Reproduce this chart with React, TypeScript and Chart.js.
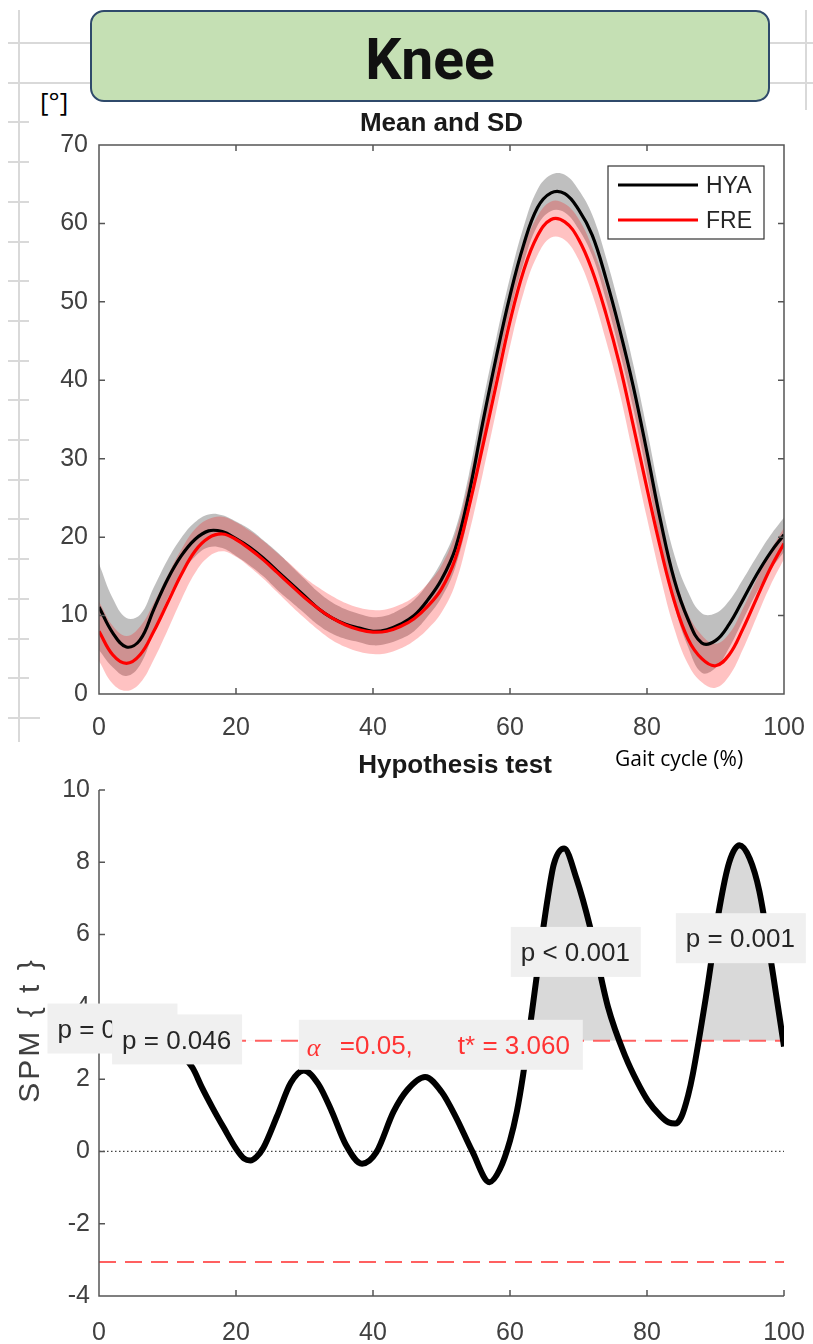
import React, { useEffect, useRef } from "react";
import { Chart, registerables } from "chart.js";

Chart.register(...registerables);

const FONT = "'Liberation Sans', Arial, Helvetica, sans-serif";
const AXIS = "#555555";
const TICK_TXT = "#404040";

// ---------- Mean and SD (knee angle, degrees) ----------
const gaitPct = [0, 2, 4, 6, 8, 10, 12, 14, 16, 18, 20, 22, 24, 26, 28, 30, 32, 34, 36, 38, 40, 42, 44, 46, 48, 50, 52, 54, 56, 58, 60, 62, 64, 66, 68, 70, 72, 74, 76, 78, 80, 82, 84, 86, 88, 90, 92, 94, 96, 98, 100];
const hyaMean = [11.1, 7.8, 6.0, 6.9, 10.8, 14.6, 17.6, 19.7, 20.8, 20.7, 19.8, 18.7, 17.3, 15.7, 14.1, 12.5, 10.9, 9.7, 8.9, 8.4, 8.0, 8.2, 8.9, 10.0, 12.0, 14.6, 18.5, 25.5, 34.5, 43.0, 50.8, 57.3, 62.0, 63.9, 63.8, 61.8, 58.5, 53.0, 46.5, 39.2, 30.8, 22.0, 14.5, 9.5, 6.5, 6.8, 8.9, 12.0, 15.2, 18.0, 20.3];
const hyaSD = [5.5, 4.4, 3.7, 3.2, 2.8, 2.5, 2.3, 2.2, 2.1, 2.1, 2.2, 2.3, 2.3, 2.4, 2.3, 2.2, 2.1, 2.0, 1.9, 1.8, 1.8, 1.8, 1.9, 2.0, 2.1, 2.3, 2.4, 2.5, 2.5, 2.4, 2.3, 2.3, 2.3, 2.3, 2.4, 2.5, 2.6, 2.7, 2.8, 2.8, 2.9, 3.0, 3.2, 3.5, 3.8, 3.5, 3.0, 2.6, 2.3, 2.2, 2.2];
const freMean = [8.0, 5.0, 3.9, 5.0, 8.0, 11.6, 15.2, 18.2, 19.9, 20.4, 19.7, 18.5, 17.1, 15.5, 13.9, 12.3, 10.9, 9.7, 8.8, 8.2, 7.9, 8.0, 8.6, 9.6, 11.2, 13.4, 17.2, 23.8, 31.5, 39.5, 47.5, 54.0, 58.4, 60.5, 60.2, 58.0, 54.0, 48.5, 42.0, 34.2, 26.2, 18.5, 11.8, 7.0, 4.5, 3.6, 5.0, 8.3, 12.2, 16.0, 19.2];
const freSD = [3.8, 3.7, 3.5, 3.6, 3.6, 3.5, 3.2, 2.8, 2.4, 2.2, 2.2, 2.3, 2.4, 2.5, 2.6, 2.6, 2.7, 2.8, 2.8, 2.8, 2.8, 2.8, 2.8, 2.8, 2.9, 3.0, 3.2, 3.4, 3.5, 3.4, 3.2, 2.8, 2.5, 2.3, 2.3, 2.6, 3.0, 3.4, 3.6, 3.8, 3.8, 3.7, 3.5, 3.2, 3.0, 2.8, 2.7, 2.6, 2.4, 2.2, 2.0];
const angleTicks = [0, 10, 20, 30, 40, 50, 60, 70];
const pctTicks = [0, 20, 40, 60, 80, 100];
const groupNames = ["HYA", "FRE"];

// ---------- Hypothesis test (SPM{t}) ----------
const spmX = [0, 3, 6, 9, 11.5, 13.7, 15, 16.6, 18.2, 20.1, 21.2, 22.1, 23, 24, 26, 28, 29.9, 32, 34, 36, 38.4, 40.5, 43, 45, 47.6, 50, 52.1, 54.5, 57, 58.5, 60, 61, 61.9, 63.2, 64.5, 65.5, 66.4, 67.9, 69.7, 71.7, 74.3, 76.9, 78.5, 80.1, 82, 83.2, 84.1, 85, 86, 86.7, 88.6, 90.6, 92, 93.5, 95, 96.4, 98.4, 100];
const spmT = [3.35, 3.5, 3.45, 3.2, 2.8, 2.3, 1.78, 1.2, 0.66, 0.05, -0.2, -0.25, -0.15, 0.1, 0.98, 1.9, 2.24, 1.87, 1.1, 0.2, -0.34, -0.02, 1.1, 1.7, 2.06, 1.65, 0.95, 0.0, -0.85, -0.5, 0.3, 1.1, 2.1, 3.85, 5.7, 7.0, 7.95, 8.38, 7.55, 6.2, 4.0, 2.6, 1.95, 1.41, 0.98, 0.8, 0.77, 0.95, 1.55, 2.15, 4.27, 6.76, 8.0, 8.47, 8.1, 7.2, 4.9, 2.9];
const spmTicks = [-4, -2, 0, 2, 4, 6, 8, 10];
const tStar = 3.06;
const alphaLevel = 0.05;
const clusterText = ["p = 0", "p = 0.046", "p < 0.001", "p = 0.001"];
const clusterAnchorX = [1.97, 11.4, 69.6, 93.7];
const clusterAnchorT = [3.4, 3.1, 5.52, 5.9];
const alphaAnchor = [49.9, 2.95];

const pts = (xs: number[], ys: number[]) => xs.map((x, i) => ({ x, y: ys[i] }));

function axesPlugin(cfg: any) {
  return {
    id: "matlabAxes",
    afterDatasetsDraw(chart: any) {
      const { ctx, chartArea: a, scales } = chart;
      const xs = scales.x;
      const ys = scales.y;
      ctx.save();
      ctx.strokeStyle = AXIS;
      ctx.lineWidth = 1.5;
      ctx.beginPath();
      if (cfg.box) {
        ctx.rect(a.left, a.top, a.right - a.left, a.bottom - a.top);
      } else {
        ctx.moveTo(a.left, a.top);
        ctx.lineTo(a.left, a.bottom);
        ctx.lineTo(a.right, a.bottom);
      }
      const TL = 6;
      xs.ticks.forEach((t: any) => {
        const p = xs.getPixelForValue(t.value);
        ctx.moveTo(p, a.bottom);
        ctx.lineTo(p, a.bottom - TL);
        if (cfg.box) {
          ctx.moveTo(p, a.top);
          ctx.lineTo(p, a.top + TL);
        }
      });
      ys.ticks.forEach((t: any) => {
        const p = ys.getPixelForValue(t.value);
        ctx.moveTo(a.left, p);
        ctx.lineTo(a.left + TL, p);
        if (cfg.box) {
          ctx.moveTo(a.right, p);
          ctx.lineTo(a.right - TL, p);
        }
      });
      ctx.stroke();

      if (cfg.legend) {
        const ds = chart.data.datasets;
        const bx = a.right - 176;
        const by = a.top + 21;
        ctx.fillStyle = "#ffffff";
        ctx.fillRect(bx, by, 156, 73);
        ctx.strokeStyle = "#333333";
        ctx.lineWidth = 1.2;
        ctx.strokeRect(bx, by, 156, 73);
        const entries = [ds[1], ds[0]];
        entries.forEach((d: any, i: number) => {
          const y = by + 19 + i * 35;
          ctx.strokeStyle = d.borderColor;
          ctx.lineWidth = 3;
          ctx.beginPath();
          ctx.moveTo(bx + 10, y);
          ctx.lineTo(bx + 90, y);
          ctx.stroke();
          ctx.fillStyle = "#262626";
          ctx.font = `23px ${FONT}`;
          ctx.textAlign = "left";
          ctx.textBaseline = "middle";
          ctx.fillText(d.label, bx + 98, y + 2);
        });
      }

      if (cfg.clusters) {
        const boxAt = (cx: number, cy: number, w: number) => {
          ctx.fillStyle = "#f0f0f0";
          ctx.fillRect(cx - w / 2, cy - 25, w, 50);
        };
        clusterText.forEach((txt, i) => {
          const cx = xs.getPixelForValue(clusterAnchorX[i]);
          const cy = ys.getPixelForValue(clusterAnchorT[i]);
          boxAt(cx, cy, 130);
          ctx.fillStyle = "#262626";
          ctx.font = `26px ${FONT}`;
          ctx.textAlign = "left";
          ctx.textBaseline = "middle";
          ctx.fillText(txt, cx - 65 + 10, cy + 2);
        });
        const ax = xs.getPixelForValue(alphaAnchor[0]);
        const ay = ys.getPixelForValue(alphaAnchor[1]);
        boxAt(ax, ay, 284);
        const left = ax - 142;
        ctx.fillStyle = "#ff3333";
        ctx.textAlign = "left";
        ctx.textBaseline = "middle";
        ctx.font = `italic 26px 'Liberation Serif', serif`;
        ctx.fillText("\u03b1", left + 8, ay + 4);
        ctx.font = `26px ${FONT}`;
        ctx.fillText(`=${alphaLevel.toFixed(2)},`, left + 41, ay + 2);
        ctx.fillText(`t* = ${tStar.toFixed(3)}`, left + 159, ay + 2);
      }
      ctx.restore();
    },
    afterDraw(chart: any) {
      const { ctx } = chart;
      ctx.save();
      ctx.fillStyle = "#1a1a1a";
      ctx.font = `bold 26px ${FONT}`;
      ctx.textAlign = "center";
      ctx.textBaseline = "middle";
      ctx.fillText(cfg.title, cfg.titleX, cfg.titleY);
      if (cfg.ylabel) {
        ctx.translate(cfg.ylabelX, cfg.ylabelY);
        ctx.rotate(-Math.PI / 2);
        ctx.font = `30px ${FONT}`;
        ctx.fillStyle = "#404040";
        (ctx as any).letterSpacing = "3px";
        ctx.fillText(cfg.ylabel, 0, 0);
      }
      ctx.restore();
    },
  };
}

const tickFont = { family: FONT, size: 25 };
const noPadX = (h: number) => (s: any) => {
  s.height = h;
  s.paddingLeft = 0;
  s.paddingRight = 0;
};
const noPadY = (s: any) => {
  s.width = 99;
  s.paddingTop = 0;
  s.paddingBottom = 0;
};

function MeanChart() {
  const ref = useRef<HTMLCanvasElement>(null);
  useEffect(() => {
    const hyaUp = hyaMean.map((m, i) => m + hyaSD[i]);
    const hyaLo = hyaMean.map((m, i) => m - hyaSD[i]);
    const freUp = freMean.map((m, i) => m + freSD[i]);
    const freLo = freMean.map((m, i) => m - freSD[i]);
    const band = { pointRadius: 0, borderWidth: 0, tension: 0.4 };
    const chart = new Chart(ref.current as HTMLCanvasElement, {
      type: "line",
      data: {
        datasets: [
          { label: groupNames[1], data: pts(gaitPct, freMean), borderColor: "#ff0000", borderWidth: 3.2, pointRadius: 0, fill: false, order: 0, tension: 0.4 },
          { label: groupNames[0], data: pts(gaitPct, hyaMean), borderColor: "#000000", borderWidth: 3.2, pointRadius: 0, fill: false, order: 1, tension: 0.4 },
          { label: "FRE+SD", data: pts(gaitPct, freUp), backgroundColor: "rgba(255,0,0,0.24)", fill: 3, order: 2, ...band },
          { label: "FRE-SD", data: pts(gaitPct, freLo), fill: false, order: 2, ...band },
          { label: "HYA+SD", data: pts(gaitPct, hyaUp), backgroundColor: "rgba(128,128,128,0.5)", fill: 5, order: 3, ...band },
          { label: "HYA-SD", data: pts(gaitPct, hyaLo), fill: false, order: 3, ...band },
        ] as any,
      },
      options: {
        animation: false,
        responsive: false,
        devicePixelRatio: 1,
        layout: { padding: { top: 45, right: 29, bottom: 0, left: 0 } },
        plugins: { legend: { display: false }, tooltip: { enabled: false } },
        scales: {
          x: {
            type: "linear",
            min: 0,
            max: 100,
            afterBuildTicks: (s: any) => { s.ticks = pctTicks.map((v) => ({ value: v })); },
            afterFit: noPadX(51),
            grid: { display: false, drawTicks: false },
            border: { display: false },
            ticks: { font: tickFont, color: TICK_TXT, padding: 19, maxRotation: 0 },
          },
          y: {
            type: "linear",
            min: 0,
            max: 70,
            afterBuildTicks: (s: any) => { s.ticks = angleTicks.map((v) => ({ value: v })); },
            afterFit: noPadY,
            grid: { display: false, drawTicks: false },
            border: { display: false },
            ticks: { font: tickFont, color: TICK_TXT, padding: 11 },
          },
        },
      } as any,
      plugins: [axesPlugin({ box: true, legend: true, title: "Mean and SD", titleX: 441.5, titleY: 24 })],
    });
    return () => chart.destroy();
  }, []);
  return <canvas ref={ref} width={813} height={645} style={{ position: "absolute", left: 0, top: 100 }} />;
}

function SpmChart() {
  const ref = useRef<HTMLCanvasElement>(null);
  useEffect(() => {
    const chart = new Chart(ref.current as HTMLCanvasElement, {
      type: "line",
      data: {
        datasets: [
          {
            label: "SPM{t}",
            data: pts(spmX, spmT),
            borderColor: "#000000",
            borderWidth: 6,
            pointRadius: 0,
            cubicInterpolationMode: "monotone",
            fill: { target: { value: tStar }, above: "#d9d9d9", below: "rgba(0,0,0,0)" },
            order: 0,
          },
          { label: "t*", data: pts([0, 100], [tStar, tStar]), borderColor: "#ff6060", borderWidth: 2, borderDash: [17, 9], pointRadius: 0, fill: false, order: 1 },
          { label: "-t*", data: pts([0, 100], [-tStar, -tStar]), borderColor: "#ff6060", borderWidth: 2, borderDash: [17, 9], pointRadius: 0, fill: false, order: 1 },
          { label: "zero", data: pts([0, 100], [0, 0]), borderColor: "#444444", borderWidth: 1.2, borderDash: [1.5, 2.5], pointRadius: 0, fill: false, order: 2 },
        ] as any,
      },
      options: {
        animation: false,
        responsive: false,
        devicePixelRatio: 1,
        layout: { padding: { top: 45, right: 29, bottom: 0, left: 0 } },
        plugins: { legend: { display: false }, tooltip: { enabled: false }, filler: { drawTime: "beforeDatasetsDraw" } },
        scales: {
          x: {
            type: "linear",
            min: 0,
            max: 100,
            afterBuildTicks: (s: any) => { s.ticks = pctTicks.map((v) => ({ value: v })); },
            afterFit: noPadX(48),
            grid: { display: false, drawTicks: false },
            border: { display: false },
            ticks: { font: tickFont, color: TICK_TXT, padding: 22, maxRotation: 0 },
          },
          y: {
            type: "linear",
            min: -4,
            max: 10,
            afterBuildTicks: (s: any) => { s.ticks = spmTicks.map((v) => ({ value: v })); },
            afterFit: noPadY,
            grid: { display: false, drawTicks: false },
            border: { display: false },
            ticks: { font: tickFont, color: TICK_TXT, padding: 9 },
          },
        },
      } as any,
      plugins: [axesPlugin({ box: false, clusters: true, title: "Hypothesis test", titleX: 455, titleY: 21, ylabel: "SPM { t }", ylabelX: 31, ylabelY: 285 })],
    });
    return () => chart.destroy();
  }, []);
  return <canvas ref={ref} width={813} height={599} style={{ position: "absolute", left: 0, top: 745 }} />;
}

const SHEET = "#d9d9d9";

function SheetLines() {
  const items: React.ReactNode[] = [];
  items.push(<div key="v" style={{ position: "absolute", left: 18, top: 10, width: 2, height: 732, background: SHEET }} />);
  items.push(<div key="vr" style={{ position: "absolute", left: 805, top: 10, width: 2, height: 100, background: SHEET }} />);
  for (let k = 0; k < 18; k++) {
    const y = Math.round(42 + 39.7 * k);
    const w = k < 2 ? 82 : k === 17 ? 32 : 21;
    items.push(<div key={"h" + k} style={{ position: "absolute", left: 8, top: y, width: w, height: 2, background: SHEET }} />);
    if (k < 2) items.push(<div key={"hr" + k} style={{ position: "absolute", left: 770, top: y, width: 43, height: 2, background: SHEET }} />);
  }
  return <>{items}</>;
}

export default function App() {
  useEffect(() => {
    document.body.style.margin = "0";
  }, []);
  return (
    <div style={{ position: "relative", width: 813, height: 1344, background: "#ffffff", overflow: "hidden" }}>
      <SheetLines />
      <div
        style={{
          position: "absolute",
          left: 90,
          top: 10,
          width: 676,
          height: 88,
          border: "2px solid #2f4a6b",
          borderRadius: 14,
          background: "#c5e0b4",
          display: "flex",
          alignItems: "center",
          justifyContent: "center",
        }}
      >
        <span style={{ fontFamily: "Roboto, 'Open Sans', sans-serif", fontWeight: 700, fontSize: 57, color: "#111", lineHeight: 1, marginTop: 6 }}>Knee</span>
      </div>
      <div style={{ position: "absolute", left: 40, top: 86, fontFamily: "'Open Sans', sans-serif", fontSize: 26, lineHeight: 1.2, color: "#000" }}>[°]</div>
      <MeanChart />
      <SpmChart />
      <div style={{ position: "absolute", left: 615, top: 746, fontFamily: "'Open Sans', sans-serif", fontSize: 21, lineHeight: 1.2, color: "#000", whiteSpace: "nowrap" }}>Gait cycle (%)</div>
    </div>
  );
}
